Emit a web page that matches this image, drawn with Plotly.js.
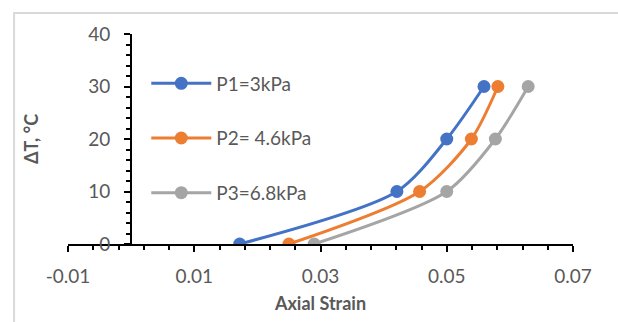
<!DOCTYPE html>
<html><head><meta charset="utf-8">
<script src="https://cdn.plot.ly/plotly-3.0.1.min.js"></script>
<style>html,body{margin:0;padding:0;background:#fff}#chart{width:618px;height:322px}</style>
</head><body><div id="chart"></div>
<script>
const seriesNames = ['P1=3kPa', 'P2= 4.6kPa', 'P3=6.8kPa'];
const deltaT = [0, 10, 20, 30];
const strainP1 = [0.0172, 0.0421, 0.0500, 0.0559];
const strainP2 = [0.0250, 0.0457, 0.0539, 0.0581];
const strainP3 = [0.0290, 0.0500, 0.0577, 0.0629];
const seriesColors = ['#4472C4', '#ED7D31', '#A5A5A5'];
const xTickVals = [-0.01, 0.01, 0.03, 0.05, 0.07];
const xTickText = ['-0.01', '0.01', '0.03', '0.05', '0.07'];
const yTickVals = [0, 10, 20, 30, 40];
const yTickText = ['0', '10', '20', '30', '40'];
const xTitle = 'Axial Strain';
const yTitle = 'ΔT, °C';

const strains = [strainP1, strainP2, strainP3];
const traces = strains.map((xs, i) => ({
  type: 'scatter', mode: 'lines+markers',
  x: xs, y: deltaT, name: seriesNames[i], legendgroup: 'g' + i,
  line: {color: seriesColors[i], width: 3, shape: 'spline', smoothing: 0.8},
  marker: {color: seriesColors[i], size: 13}
}));

const grey = '#595959';
const layout = {
  width: 618, height: 322,
  margin: {l: 68, r: 45, t: 34, b: 78},
  paper_bgcolor: '#fff', plot_bgcolor: 'rgba(0,0,0,0)',
  font: {family: 'Lato, sans-serif', color: grey, size: 19},
  showlegend: true,
  legend: {x: 0.155, y: 0.855, xanchor: 'left', yanchor: 'top', bgcolor: 'rgba(0,0,0,0)',
           font: {size: 19, color: grey}, tracegroupgap: 27, itemwidth: 60},
  xaxis: {
    range: [-0.01, 0.07], tickmode: 'array', tickvals: xTickVals, ticktext: xTickText,
    showgrid: false, zeroline: false, showline: true, linecolor: '#000', linewidth: 2,
    ticks: 'outside', ticklen: 6, tickwidth: 2, tickcolor: '#000', ticklabelstandoff: 8,
    minor: {tickmode: 'linear', tick0: -0.01, dtick: 0.004, ticks: 'outside', ticklen: 4, tickwidth: 2, tickcolor: '#000', showgrid: false},
    tickfont: {size: 19, color: grey},
    title: {text: xTitle, font: {size: 18, color: grey, family: 'Lato, sans-serif', weight: 'bold'}, standoff: 12}
  },
  yaxis: {
    range: [0, 40], anchor: 'free', position: 0.125, tickmode: 'array', tickvals: yTickVals, ticktext: yTickText,
    showgrid: false, zeroline: false, showline: true, linecolor: '#000', linewidth: 2,
    ticks: 'outside', ticklen: 6, tickwidth: 2, tickcolor: '#000', ticklabelstandoff: 10,
    minor: {tickmode: 'linear', tick0: 0, dtick: 2, ticks: 'outside', ticklen: 4, tickwidth: 2, tickcolor: '#000', showgrid: false},
    tickfont: {size: 19, color: grey},
    title: {text: yTitle, font: {size: 18, color: grey, family: 'Lato, sans-serif', weight: 'bold'}, standoff: 44}
  },
  shapes: [{type: 'rect', xref: 'paper', yref: 'paper', x0: -0.1068, x1: 1.3, y0: -0.6, y1: 1.1,
            line: {color: '#D9D9D9', width: 2}, fillcolor: 'rgba(0,0,0,0)', layer: 'below'}]
};
Plotly.newPlot('chart', traces, layout, {displayModeBar: false, staticPlot: true});
</script>
</body></html>
